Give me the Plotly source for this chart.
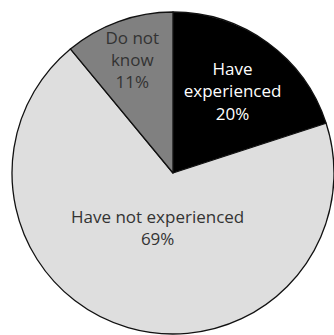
import math
import plotly.graph_objects as go

labels = ["Have experienced", "Have not experienced", "Do not know"]
display_labels = ["Have<br>experienced", "Have not experienced", "Do not<br>know"]
values = [20, 69, 11]
colors = ["#000000", "#dedede", "#808080"]
text_colors = ["#ffffff", "#333333", "#333333"]

FONT = "Open Sans"
SIZE = 17
W, H = 334, 335

# Pie box in pixels (left, top, size); converted to a paper domain below.
BOX_L, BOX_T, BOX = 12, 12, 322
dom_x = [BOX_L / W, min(1, (BOX_L + BOX) / W)]
dom_y = [max(0, 1 - (BOX_T + BOX) / H), 1 - BOX_T / H]

# The large slice gets its label from an annotation placed on the slice bisector,
# a bit closer to the centre than plotly's automatic inside placement.
big = 1
inside_text = [t if i != big else "" for i, t in enumerate(display_labels)]

fig = go.Figure(
    go.Pie(
        labels=labels,
        values=values,
        text=inside_text,
        sort=False,
        direction="clockwise",
        rotation=0,
        domain=dict(x=dom_x, y=dom_y),
        marker=dict(colors=colors, line=dict(color="#111111", width=1.3)),
        texttemplate=["%{text}<br>%{percent:.0%}", "", "%{text}<br>%{percent:.0%}"],
        textposition="inside",
        insidetextorientation="horizontal",
        textfont=dict(family=FONT, size=SIZE, color=text_colors),
        hoverinfo="skip",
        showlegend=False,
    )
)

total = sum(values)
start = sum(values[:big]) / total * 360
mid = math.radians(start + values[big] / total * 360 / 2)
cx = (dom_x[0] + dom_x[1]) / 2 * W
cy = (1 - (dom_y[0] + dom_y[1]) / 2) * H
r = BOX / 2
frac = 0.35
lx = cx + math.sin(mid) * r * frac
ly = cy - math.cos(mid) * r * frac
fig.add_annotation(
    x=lx / W,
    y=1 - ly / H,
    xref="paper",
    yref="paper",
    xanchor="center",
    yanchor="middle",
    text=f"{display_labels[big]}<br>{round(values[big] / total * 100)}%",
    showarrow=False,
    font=dict(family=FONT, size=SIZE, color=text_colors[big]),
    align="center",
)

fig.update_layout(
    width=W,
    height=H,
    margin=dict(l=0, r=0, t=0, b=0),
    paper_bgcolor="#ffffff",
    plot_bgcolor="#ffffff",
    uniformtext=dict(minsize=SIZE, mode="show"),
)

fig.write_html("out.html")
